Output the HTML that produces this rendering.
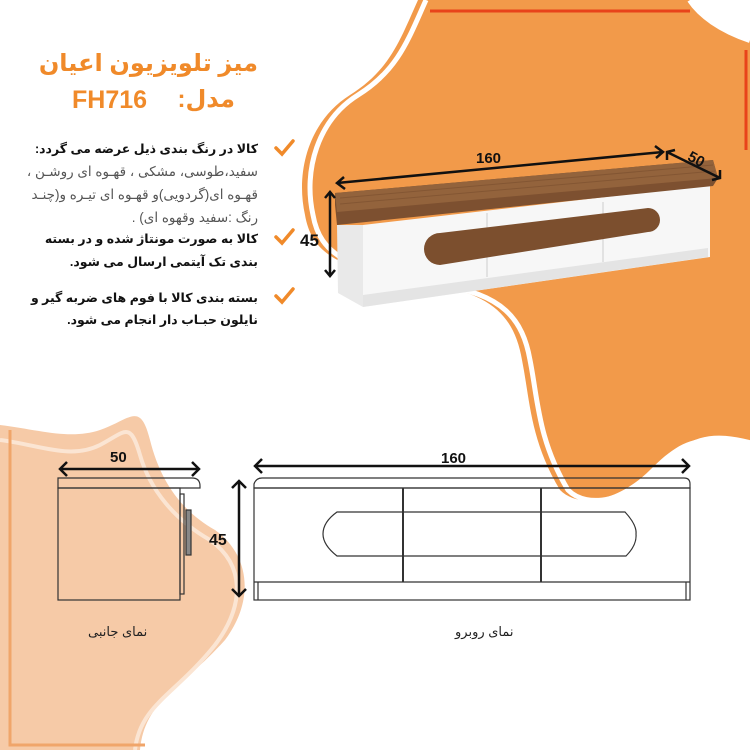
<!DOCTYPE html>
<html><head><meta charset="utf-8"><style>
body{margin:0;width:750px;height:750px;overflow:hidden;background:#fff;position:relative;font-family:"Liberation Sans","DejaVu Sans",sans-serif}
svg{position:absolute;left:0;top:0}
.t{position:absolute;direction:rtl;text-align:right;right:492px;white-space:nowrap;color:#222;font-size:13.5px;line-height:22px}
.b{font-weight:bold;color:#111;font-size:12.5px}
.g{color:#555}
</style></head><body>
<svg width="750" height="750" viewBox="0 0 750 750">
<path d="M418 0 C 400 40, 390 70, 350 95 C 310 120, 295 170, 305 215 C 312 255, 340 270, 430 285 C 495 293, 515 320, 522 360 C 530 400, 530 440, 560 490 C 580 510, 620 500, 650 470 C 680 440, 700 430, 750 445 L750 40 C 720 30, 700 15, 690 0 Z" fill="#f29a4a"/>
<path d="M418 0 C 400 40, 390 70, 350 95 C 310 120, 295 170, 305 215 C 312 255, 340 270, 430 285 C 495 293, 515 320, 522 360 C 530 400, 530 440, 560 490 C 580 510, 620 500, 650 470 C 680 440, 700 430, 750 445" fill="none" stroke="#fff" stroke-width="5" transform="translate(8,0)"/>
<path d="M690 0 C 700 15, 720 30, 750 40" fill="none" stroke="#fff" stroke-width="6"/>
<line x1="430" y1="11" x2="690" y2="11" stroke="#e8431a" stroke-width="3"/>
<line x1="746" y1="50" x2="746" y2="150" stroke="#e8431a" stroke-width="3"/>
<path d="M0 425 C 40 430, 70 440, 100 430 C 130 420, 140 400, 150 440 C 160 480, 180 510, 215 530 C 250 555, 255 600, 225 640 C 180 690, 145 700, 140 750 L0 750 Z" fill="#f6caa7"/>
<path d="M0 440 C 40 445, 70 460, 100 445 C 125 432, 130 420, 140 455 C 150 490, 175 520, 210 540 C 245 565, 245 605, 215 645 C 175 695, 140 705, 135 750" fill="none" stroke="#fbe5d3" stroke-width="4"/>
<path d="M10 430 L10 745 L145 745" fill="none" stroke="#f0a56a" stroke-width="3"/>

<polygon points="337,225 363,225 363,307 338,293" fill="#e9e9e9"/>
<polygon points="363,225 710,185 710,257 363,307" fill="#f7f7f7"/>
<polygon points="363,295 708,248 708,257 363,307" fill="#e4e4e4"/>
<polygon points="335,193 713,160 718,178 713,186 337,225 335,205" fill="#7d5030"/>
<polygon points="335,193 713,160 718,178 337,212" fill="#93633c"/>
<g stroke="#7a4e2e" stroke-width="1" opacity="0.6">
<line x1="340" y1="198" x2="713" y2="165"/><line x1="340" y1="204" x2="715" y2="171"/></g>
<line x1="487" y1="213" x2="487" y2="277" stroke="#ccc"/>
<line x1="603" y1="202" x2="603" y2="262" stroke="#ccc"/>
<path d="M440 233 L648 208 A12 12 0 0 1 648 232 L440 265 A16 16 0 0 1 440 233 Z" fill="#7c4f2e"/>
<g stroke="#111" stroke-width="2.5" fill="none">
<line x1="337" y1="183" x2="663" y2="152"/><path d="M344 177 L337 183 L345 189"/><path d="M655 146 L663 152 L656 158"/>
<line x1="667" y1="152" x2="720" y2="178"/><path d="M667 160 L667 152 L675 150"/><path d="M720 170 L720 178 L712 180"/>
<line x1="330" y1="192" x2="330" y2="276"/><path d="M325 198 L330 192 L335 198"/><path d="M325 270 L330 276 L335 270"/>
</g>
<text x="476" y="163" font-size="15" font-weight="bold" fill="#111" font-family="Liberation Sans">160</text>
<text x="688" y="166" font-size="15" font-weight="bold" fill="#111" font-family="Liberation Sans" transform="rotate(28 700 160)">50</text>
<text x="300" y="246" font-size="17" font-weight="bold" fill="#111" font-family="Liberation Sans">45</text>

<g stroke="#f08a2a" stroke-width="3.5" fill="none" stroke-linecap="round">
<path d="M276 148 L282 154 L293 141"/>
<path d="M276 237 L282 243 L293 230"/>
<path d="M276 296 L282 302 L293 289"/>
</g>

<g stroke="#333" stroke-width="1.2" fill="none">
<path d="M58 478 L192 478 Q200 478 200 486 L200 488 L58 488 Z"/>
<rect x="58" y="488" width="122" height="112"/>
<rect x="180" y="494" width="4" height="100"/>
<rect x="186" y="510" width="5" height="45" fill="#888"/>
<path d="M254 488 L254 484 Q256 478 262 478 L684 478 Q690 478 690 484 L690 488 Z"/>
<rect x="254" y="488" width="436" height="112"/>
<line x1="254" y1="582" x2="690" y2="582"/>
<line x1="258" y1="582" x2="258" y2="600"/><line x1="686" y1="582" x2="686" y2="600"/>
<line x1="403" y1="488" x2="403" y2="582" stroke-width="2"/>
<line x1="541" y1="488" x2="541" y2="582" stroke-width="2"/>
<path d="M337 512 L625 512 Q637 525 636 534 Q637 545 626 556 L337 556 Q323 545 323 534 Q323 522 337 512 Z"/>
</g>
<g stroke="#111" stroke-width="2.5" fill="none">
<line x1="60" y1="469" x2="199" y2="469"/><path d="M67 462 L60 469 L67 476"/><path d="M192 462 L199 469 L192 476"/>
<line x1="255" y1="466" x2="689" y2="466"/><path d="M262 459 L255 466 L262 473"/><path d="M682 459 L689 466 L682 473"/>
<line x1="239" y1="481" x2="239" y2="596"/><path d="M232 488 L239 481 L246 488"/><path d="M232 589 L239 596 L246 589"/>
</g>
<text x="110" y="462" font-size="15" font-weight="bold" fill="#111" font-family="Liberation Sans">50</text>
<text x="441" y="463" font-size="15" font-weight="bold" fill="#111" font-family="Liberation Sans">160</text>
<text x="209" y="545" font-size="16" font-weight="bold" fill="#111" font-family="Liberation Sans">45</text>
</svg>

<div class="t" style="top:48px;font-size:24px;font-weight:bold;color:#f08a2a;line-height:32px">میز تلویزیون اعیان</div>
<div class="t" style="top:84px;right:515px;font-size:24px;font-weight:bold;color:#f08a2a;line-height:32px">مدل:</div>
<div style="position:absolute;left:72px;top:84px;font-size:25px;font-weight:bold;color:#f08a2a;line-height:32px">FH716</div>

<div class="t b" style="top:138px">کالا در رنگ بندی ذیل عرضه می گردد:</div>
<div class="t g" style="top:161px">سفید،طوسی، مشکی ، قهـوه ای روشـن ،</div>
<div class="t g" style="top:184px">قهـوه ای(گردویی)و قهـوه ای تیـره و(چنـد</div>
<div class="t g" style="top:207px">رنگ :سفید وقهوه ای) .</div>
<div class="t b" style="top:228px">کالا به صورت مونتاژ شده و در بسته</div>
<div class="t b" style="top:251px">بندی تک آیتمی ارسال می شود.</div>
<div class="t b" style="top:287px">بسته بندی کالا با فوم های ضربه گیر و</div>
<div class="t b" style="top:309px">نایلون حبـاب دار انجام می شود.</div>

<div style="position:absolute;left:88px;top:624px;font-size:13px;color:#222;direction:rtl">نمای جانبی</div>
<div style="position:absolute;left:455px;top:624px;font-size:13px;color:#222;direction:rtl">نمای روبرو</div>
</body></html>
